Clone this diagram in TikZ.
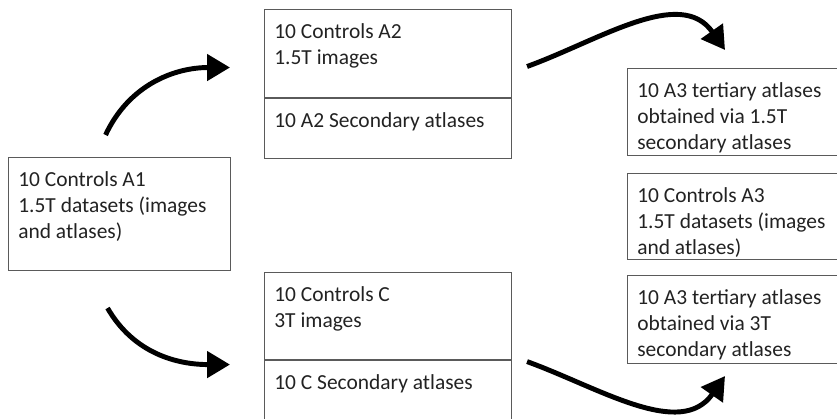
\documentclass[tikz,border=0pt]{standalone}
\usepackage{fontspec}
\setmainfont{Carlito}
\usetikzlibrary{arrows.meta,positioning}
\definecolor{boxgray}{HTML}{5A5A5A}
\definecolor{inkdark}{HTML}{222222}

\begin{document}
\begin{tikzpicture}[
  box/.style={draw=boxgray, line width=0.6pt, rectangle, inner sep=0pt, anchor=north west},
  txt/.style={inner sep=0pt, align=left, text=inkdark, font=\fontsize{12.2}{14.8}\selectfont},
  bigarrow/.style={line width=2.8pt, -{Triangle[length=0.46cm, width=0.52cm]}}
]
\useasboundingbox (0,0) rectangle (16.74,8.38);
\clip (0,0) rectangle (16.74,8.38);
% boxes
\node[box, minimum width=4.44cm, minimum height=2.26cm] (a1) at (0.16,5.24) {};
\node[box, minimum width=4.94cm, minimum height=1.76cm] (a2) at (5.28,8.2) {};
\node[box, minimum width=4.94cm, minimum height=1.2cm] (a2s) at (a2.south west) {};
\node[box, minimum width=4.94cm, minimum height=1.74cm] (cc) at (5.28,2.94) {};
\node[box, minimum width=4.94cm, minimum height=1.18cm] (ccs) at (cc.south west) {};
\node[box, minimum width=4.6cm, minimum height=1.74cm] (r1) at (12.54,7.02) {};
\node[box, minimum width=4.6cm, minimum height=1.72cm] (r2) at (12.54,4.92) {};
\node[box, minimum width=4.6cm, minimum height=1.76cm] (r3) at (12.54,2.88) {};
% texts
\node[txt, below right=0.28cm and 0.2cm of a1.north west] (a1txt) {10 Controls A1\\1.5T datasets (images\\and atlases)};
\node[txt, below right=0.28cm and 0.2cm of a2.north west] (a2txt) {10 Controls A2\\1.5T images};
\node[txt, below right=0.28cm and 0.2cm of a2s.north west] (a2stxt) {10 A2 Secondary atlases};
\node[txt, below right=0.28cm and 0.2cm of cc.north west] (cctxt) {10 Controls C\\3T images};
\node[txt, below right=0.28cm and 0.2cm of ccs.north west] (ccstxt) {10 C Secondary atlases};
\node[txt, below right=0.28cm and 0.2cm of r1.north west] (r1txt) {10 A3 tertiary atlases\\obtained via 1.5T\\secondary atlases};
\node[txt, below right=0.28cm and 0.2cm of r2.north west] (r2txt) {10 Controls A3\\1.5T datasets (images\\and atlases)};
\node[txt, below right=0.28cm and 0.2cm of r3.north west] (r3txt) {10 A3 tertiary atlases\\obtained via 3T\\secondary atlases};
% arrows
\draw[bigarrow] ([xshift=-0.28cm, yshift=0.44cm]a1.north) to[out=65, in=180] ([xshift=-0.68cm, yshift=-0.28cm]a2.west);
\draw[bigarrow] ([xshift=-0.24cm, yshift=-0.74cm]a1.south) to[out=-60, in=180] ([xshift=-0.68cm, yshift=0.51cm]ccs.west);
\draw[bigarrow] ([xshift=0.3cm, yshift=-0.26cm]a2.east) to[out=20, in=125] ([xshift=1.96cm, yshift=0.36cm]r1.north west);
\draw[bigarrow] ([xshift=0.3cm, yshift=0.57cm]ccs.east) to[out=-20, in=-125] ([xshift=1.96cm, yshift=-0.24cm]r3.south west);
\end{tikzpicture}
\end{document}
